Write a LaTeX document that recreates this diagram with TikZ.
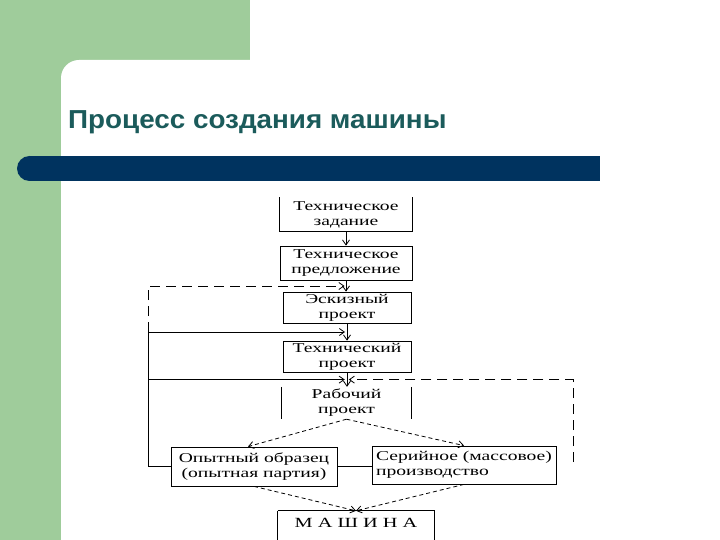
\documentclass[tikz,border=0pt]{standalone}
\usepackage{fontspec}
\setmainfont{Liberation Serif}
\newfontfamily\headfont[FakeStretch=1.07]{Liberation Sans}
\newfontfamily\boxfont[FakeStretch=1.45]{Liberation Serif}
\usetikzlibrary{calc,arrows.meta,positioning}
\definecolor{leafc}{HTML}{9FCC9B}
\definecolor{navyc}{HTML}{00335F}
\definecolor{headc}{HTML}{1B5B5B}
\tikzset{
  blk/.style={rectangle,inner sep=0pt,align=center,font=\boxfont\fontsize{13.5}{15}\selectfont},
  frm/.style={blk,draw,line width=0.8pt},
  ar/.style={-{Straight Barb[length=5pt,width=7pt]},line width=0.8pt},
  dar/.style={ar,dash pattern=on 10pt off 6pt},
  sdar/.style={ar,dash pattern=on 4pt off 3pt}
}
\begin{document}
\begin{tikzpicture}[x=1pt,y=-1pt]
\useasboundingbox (0,0) rectangle (720,540);
\fill[leafc] (0,0) rectangle (250,100);
\fill[leafc] (0,0) rectangle (61,540);
\fill[white,rounded corners=18pt] (61,600) |- (780,60) -- (780,600) -- cycle;
\fill[navyc] (29,156) rectangle (600,181);
\fill[navyc] (29.5,168.5) circle (12.5);
\node[anchor=base west,inner sep=0pt,text=headc,font=\headfont\bfseries\fontsize{26}{30}\selectfont] (ttl) at (68,129) {Процесс создания машины};

\node[blk,minimum width=132pt,minimum height=34pt] (zad) at (346,214.5) {Техническое\\задание};
\node[frm,minimum width=132pt,minimum height=34pt] (pred) at (346,263) {Техническое\\предложение};
\node[frm,minimum width=128pt,minimum height=31pt] (esk) at (347,307.5) {Эскизный\\проект};
\node[frm,minimum width=128pt,minimum height=31pt] (tech) at (347,356.5) {Технический\\проект};
\node[blk,minimum width=129pt,minimum height=32pt] (rab) at (346.5,403) {Рабочий\\проект};
\node[frm,minimum width=166pt,minimum height=39pt] (op) at (254,466.5) {Опытный образец\\(опытная партия)};
\node[frm,minimum width=184pt,minimum height=38pt,align=left] (ser) at (464,465) {Серийное (массовое)\\производство};
\node[blk,minimum width=156pt,minimum height=24pt,font=\boxfont\fontsize{14}{16}\selectfont] (mash) at (356,523) {М А Ш И Н А};
\draw[line width=0.8pt] (zad.north west) |- (zad.south east) -- (zad.north east);
\draw[line width=0.8pt] (rab.north west) -- (rab.south west) (rab.north east) -- (rab.south east);
\draw[line width=0.8pt] (mash.north west) -- ++(0,40) (mash.north west) -- (mash.north east) -- ++(0,40);

\coordinate (m1) at ($(pred.south)!.5!(esk.north)$);
\coordinate (m2) at ($(esk.south)!.5!(tech.north)$);
\coordinate (m3) at ($(tech.south)!.5!(rab.north)$);
\coordinate (lx) at (148,0);
\coordinate (rx) at (573,462);

\draw[ar] (zad.south) -- (zad.south |- pred.north);
\draw[ar] (pred.south) -- (pred.south |- esk.north);
\draw[ar] (esk.south) -- (esk.south |- tech.north);
\draw[ar] (tech.south) -- (tech.south |- rab.north);
\draw[dar] (lx |- m2) |- ([xshift=-2pt]m1);
\draw[ar] (op.west) -| (lx |- m2) -- ([xshift=-2pt]m2);
\draw[ar] (lx |- m3) -- ([xshift=-2pt]m3);
\draw[dar] (rx) |- ([xshift=2pt]m3);
\draw[line width=0.8pt] (op.east) -- (op.east -| ser.west);
\draw[sdar] (rab.south) -- ([xshift=-6pt]op.north);
\draw[sdar] (rab.south) -- (ser.north);
\draw[sdar] (op.south) -- (mash.north);
\draw[sdar] (ser.south) -- (mash.north);
\end{tikzpicture}
\end{document}
